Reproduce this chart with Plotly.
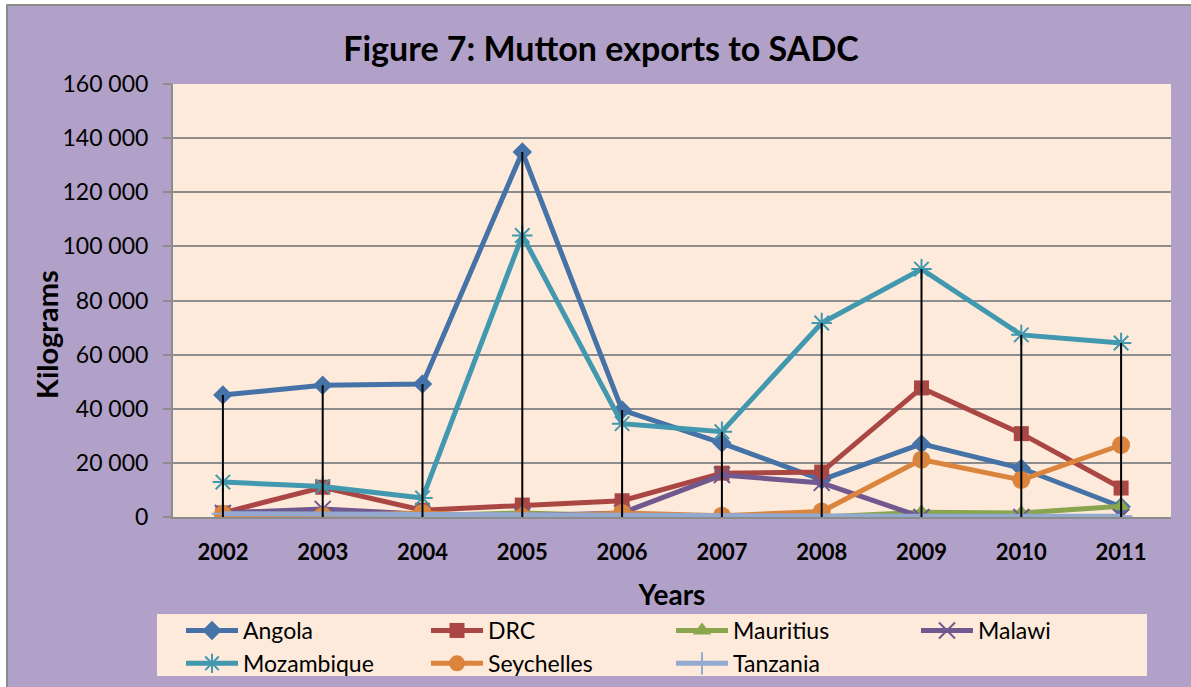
import plotly.graph_objects as go

years = ["2002", "2003", "2004", "2005", "2006", "2007", "2008", "2009", "2010", "2011"]
angola = [45100, 48700, 49100, 134900, 39500, 27300, 13700, 27000, 18000, 3800]
drc = [1500, 11000, 2500, 4400, 6000, 16200, 16600, 47700, 30800, 10700]
mauritius = [0, 0, 500, 1500, 500, 0, 0, 1800, 1500, 4000]
malawi = [1500, 3000, 1000, 500, 1500, 15500, 12600, 0, 0, 0]
mozambique = [12900, 11300, 7000, 104000, 34500, 31500, 71700, 91600, 67300, 64300]
seychelles = [1000, 500, 1500, 0, 1500, 500, 2000, 21200, 13700, 26600]
tanzania = [1200, 1000, 800, 600, 500, 400, 400, 300, 300, 300]

series = [
    ("Angola", angola, "#4572A7", "diamond", 15, 0),
    ("DRC", drc, "#AA4643", "square", 15, 0),
    ("Mauritius", mauritius, "#89A54E", "triangle-up", 16, 0),
    ("Malawi", malawi, "#71588F", "x-thin-open", 16, 2),
    ("Mozambique", mozambique, "#4198AF", "asterisk-open", 17, 2),
    ("Seychelles", seychelles, "#DB843D", "circle", 18, 0),
    ("Tanzania", tanzania, "#93A9CF", "cross-thin-open", 16, 2),
]

FONT = "Lato"
fig = go.Figure()
for name, vals, color, sym, size, lw in series:
    fig.add_trace(go.Scatter(
        x=years, y=vals, name=name, mode="lines+markers",
        line=dict(color=color, width=5),
        marker=dict(symbol=sym, size=size, color=color,
                    line=dict(color=color, width=lw)),
    ))

# drop lines from the highest value of each year down to the axis
all_vals = [s[1] for s in series]
dx, dy = [], []
for i, yr in enumerate(years):
    top = max(v[i] for v in all_vals)
    dx += [yr, yr, None]
    dy += [0, top, None]
fig.add_trace(go.Scatter(x=dx, y=dy, mode="lines", showlegend=False,
                         line=dict(color="black", width=2), hoverinfo="skip"))

L, R, T, B = 173, 1171, 84, 517
W, H = 1191, 687
pw, ph = R - L, B - T
def px(x):
    return (x - L) / pw
def py(y):
    return (B - y) / ph

fig.update_layout(
    width=W, height=H,
    margin=dict(l=L, r=W - R, t=T, b=H - B, autoexpand=False),
    paper_bgcolor="#B1A0C7",
    plot_bgcolor="#FDEADA",
    separators=". ",
    font=dict(family=FONT, color="black", size=22),
    title=dict(text="<b>Figure 7: Mutton exports to SADC</b>",
               x=601 / W, xref="container", xanchor="center",
               y=1 - 49 / H, yref="container", yanchor="middle",
               font=dict(size=34, family=FONT, color="black")),
    xaxis=dict(type="category", range=[-0.5, 9.5], showgrid=False,
               showline=True, linecolor="#8C8C8C", linewidth=2,
               ticks="outside", ticklen=15, tickcolor="rgba(0,0,0,0)",
               tickfont=dict(size=22, family=FONT),
               tickvals=years, ticktext=["<b>%s</b>" % y for y in years],
               title=dict(text="<b>Years</b>", font=dict(size=28, family=FONT),
                          standoff=21)),
    yaxis=dict(range=[0, 160000], dtick=20000, tickformat=",d",
               showgrid=True, gridcolor="#8C8C8C", gridwidth=2,
               showline=True, linecolor="#8C8C8C", linewidth=2,
               ticks="outside", ticklen=8, tickcolor="#8C8C8C", tickwidth=2,
               ticklabelstandoff=10,
               zeroline=False,
               tickfont=dict(size=23, family=FONT)),
    annotations=[
        dict(text="<b>Kilograms</b>", textangle=-90, xref="paper", yref="paper",
             x=px(46), y=py(335), xanchor="center", yanchor="middle", showarrow=False,
             font=dict(size=29, family=FONT, color="black")),
    ],
    legend=dict(orientation="h", x=px(181), y=py(609), xanchor="left", yanchor="top",
                bgcolor="rgba(0,0,0,0)", borderwidth=0, entrywidth=178, entrywidthmode="pixels",
                itemwidth=52, font=dict(size=23, family=FONT), tracegroupgap=0,
                traceorder="normal"),
    showlegend=True,
    shapes=[
        dict(type="rect", xref="paper", yref="paper", x0=px(157), x1=px(1147), y0=py(676), y1=py(614),
             fillcolor="#FDEADA", line=dict(width=0), layer="below"),
        dict(type="rect", xref="paper", yref="paper", x0=px(-20), x1=px(6), y0=py(720), y1=py(-20),
             fillcolor="white", line=dict(width=0), layer="above"),
        dict(type="rect", xref="paper", yref="paper", x0=px(-20), x1=px(1220), y0=py(4), y1=py(-20),
             fillcolor="white", line=dict(width=0), layer="above"),
        dict(type="line", xref="paper", yref="paper", x0=px(7), x1=px(7), y0=py(720), y1=py(5),
             line=dict(color="#8C8C8C", width=2), layer="above"),
        dict(type="line", xref="paper", yref="paper", x0=px(7), x1=px(1220), y0=py(5), y1=py(5),
             line=dict(color="#8C8C8C", width=2), layer="above"),
    ],
)

fig.write_html("out.html", config={"displayModeBar": False},
               post_script="document.body.style.margin='0';")
